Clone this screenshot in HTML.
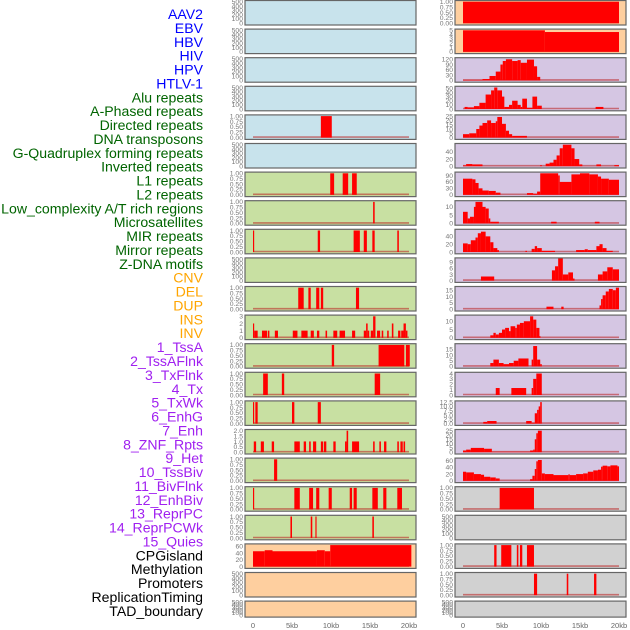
<!DOCTYPE html>
<html><head><meta charset="utf-8"><style>
html,body{margin:0;padding:0;background:#fff;}
svg{display:block;font-family:"Liberation Sans",sans-serif;}
</style></head><body>
<svg id="chart" width="630" height="630" viewBox="0 0 630 630" xmlns="http://www.w3.org/2000/svg"></svg>
<script>
const rowLabels = ["AAV2","EBV","HBV","HIV","HPV","HTLV-1","Alu repeats","A-Phased repeats","Directed repeats","DNA transposons","G-Quadruplex forming repeats","Inverted repeats","L1 repeats","L2 repeats","Low_complexity A/T rich regions","Microsatellites","MIR repeats","Mirror repeats","Z-DNA motifs","CNV","DEL","DUP","INS","INV","1_TssA","2_TssAFlnk","3_TxFlnk","4_Tx","5_TxWk","6_EnhG","7_Enh","8_ZNF_Rpts","9_Het","10_TssBiv","11_BivFlnk","12_EnhBiv","13_ReprPC","14_ReprPCWk","15_Quies","CPGisland","Methylation","Promoters","ReplicationTiming","TAD_boundary"];
const labelGroupSizes = [6,13,5,15,5];
const labelColors = ["#0000ff","#006400","#ffa500","#a020f0","#000000"];
const xTickValues = [0,5,10,15,20];
const xTickLabels = ["0","5kb","10kb","15kb","20kb"];
const T500 = ["0","100","200","300","400","500"];
const T1 = ["0.00","0.25","0.50","0.75","1.00"];
const leftBg = ["#c8e3ec","#c8e3ec","#c8e3ec","#c8e3ec","#c8e3ec","#c8e3ec","#c8e0a2","#c8e0a2","#c8e0a2","#c8e0a2","#c8e0a2","#c8e0a2","#c8e0a2","#c8e0a2","#c8e0a2","#c8e0a2","#c8e0a2","#c8e0a2","#c8e0a2","#fecf9f","#fecf9f","#fecf9f"];
const rightBg = ["#fecf9f","#fecf9f","#d5c6e3","#d5c6e3","#d5c6e3","#d5c6e3","#d5c6e3","#d5c6e3","#d5c6e3","#d5c6e3","#d5c6e3","#d5c6e3","#d5c6e3","#d5c6e3","#d5c6e3","#d5c6e3","#d5c6e3","#d1d1d1","#d1d1d1","#d1d1d1","#d1d1d1","#d1d1d1"];
const leftTicks = [T500,T500,T500,T500,T1,T500,T1,T1,T1,T500,T1,["0","1","2","3"],T1,T1,T1,["0.0","0.5","1.0","1.5","2.0"],T1,T1,T1,["0","20","40","60"],T500,T500];
const rightTicks = [T1,["0","1","2","3","4","5"],["0","30","60","90","120"],["0","10","20","30","40","50"],["0","5","10","15","20","25"],["0","20","40"],["0","30","60","90"],["0","5","10"],["0","20","40"],["0","3","6","9"],["0","5","10","15"],["0","5","10"],["0","5","10","15"],["0","1","2","3","4"],["0.0","2.5","5.0","7.5","10.0","12.5"],["0","5","10","15","20","25"],["0","20","40","60"],T1,T500,T1,T1,T500];
const leftMax = [500,500,500,500,1,500,1,1,1,500,1,3,1,1,1,2,1,1,1,63,500,500];
const rightMax = [1,5,122,52,25,60,100,13,55,10.5,17,13,19,4,12.5,25,64,1,500,1,1,500];
// segments: [startKb, endKb, value]
const leftData = [
 [],[],[],[],
 [[8.7,10.1,1]],
 [],
 [[9.9,10.4,1],[11.5,12.2,1],[12.7,13.3,1]],
 [[15.4,15.6,1]],
 [[0,0.15,1],[8.3,8.6,1],[12.9,13.7,1],[14.2,14.6,1],[15.3,15.6,1],[18.5,18.7,1]],
 [],
 [[5.8,6.5,1],[7.1,7.4,1],[8.1,8.5,1],[8.7,9.0,1],[13.2,13.6,1]],
 [[0,0.15,2],[0.15,0.6,1],[1.15,1.8,1],[1.9,2.1,1],[2.8,3.2,1],[5.1,5.7,1],[6.2,7.0,1],[7.4,7.8,1],[8.2,8.5,1],[9.3,9.5,1],[10.3,10.8,1],[11.1,11.8,1],[12.7,13.1,1],[14.2,14.5,1],[14.5,14.7,2],[14.7,14.9,1],[15.1,15.4,1],[15.4,15.7,3],[15.9,16.3,1],[16.5,16.7,1],[17.2,17.4,1],[17.8,18.0,2],[18.6,18.9,1],[19.0,19.3,1],[19.3,19.6,2],[19.6,19.8,1]],
 [[10.1,10.4,1],[16.1,19.4,1],[19.6,20.1,1]],
 [[1.3,1.9,1],[3.7,4.0,1],[15.6,16.3,1]],
 [[0,0.15,1],[0.3,0.6,1],[5.0,5.3,1],[8.3,8.7,1]],
 [[0.1,0.4,1],[1.0,1.4,1],[2.4,2.7,1],[5.3,6.0,1],[6.5,6.8,1],[7.2,7.4,1],[7.7,8.1,1],[8.7,9.0,1],[9.1,9.4,1],[10.3,10.6,1],[11.8,12.0,1],[12.0,12.2,2],[12.7,13.6,1],[15.4,15.6,1],[16.2,16.4,1],[16.8,17.1,1],[18.5,18.7,1],[18.9,19.2,1],[19.3,19.5,1]],
 [[2.7,3.1,1]],
 [[0,0.15,1],[5.3,6.0,1],[7.2,7.7,1],[8.1,8.5,1],[9.7,10.1,1],[12.4,12.7,1],[12.9,13.3,1],[15.3,16.0,1],[16.7,17.1,1],[18.5,19.1,1]],
 [[4.8,5.0,1],[7.4,7.6,1],[8.0,8.15,1],[15.3,15.5,1]],
 [[0,1.5,45],[1.5,2.5,48],[2.5,8.2,45],[8.2,9.2,48],[9.2,9.9,45],[9.9,20.3,63]],
 [],[]
];
const rightData = [
 [[0,20,1]],
 [[0,10.5,5],[10.5,20,4.6]],
 [[0,2.5,3],[2.5,3.4,8],[3.4,4.2,25],[4.2,4.8,50],[4.8,5.1,90],[5.1,5.5,110],[5.5,6.3,120],[6.3,7,110],[7,7.4,115],[7.4,8.2,100],[8.2,9.1,118],[9.1,9.5,80],[9.5,9.9,20]],
 [[0.2,0.6,5],[0.6,1.4,4],[1.4,2.1,7],[2.1,2.9,15],[2.9,3.6,35],[3.6,4,45],[4,4.4,52],[4.4,5,45],[5,5.3,30],[5.3,5.9,5],[5.9,6.3,10],[6.3,7,20],[7,7.4,10],[7.4,7.6,5],[7.6,8.2,25],[8.2,8.9,3],[8.9,9.5,30],[9.5,10.1,8],[17,18,5]],
 [[0,0.8,4],[0.8,1.7,5],[1.7,2.1,10],[2.1,2.5,14],[2.5,3.1,17],[3.1,3.6,20],[3.6,4.2,17],[4.2,4.4,19],[4.4,5,24],[5,5.5,16],[5.5,5.9,8],[5.9,6.3,4],[6.3,8.2,2]],
 [[0,0.4,2],[0.4,1.2,6],[1.2,2.5,5],[9.9,10.1,3],[10.6,11.1,7],[11.1,11.6,10],[11.6,12,18],[12,12.4,30],[12.4,12.8,50],[12.8,13.9,60],[13.9,14.3,50],[14.3,14.9,20],[14.9,15.3,5],[17.1,17.7,5],[19.4,20,3]],
 [[0,1.2,75],[1.2,1.6,72],[1.6,2,55],[2,2.5,30],[2.5,3.3,20],[3.3,4.2,18],[4.2,4.8,10],[8.2,9,8],[9,9.5,5],[9.5,9.9,15],[9.9,12.2,100],[12.2,12.4,90],[12.4,13.9,60],[13.9,15,95],[15,16.2,100],[16.2,17.3,95],[17.3,17.7,85],[17.7,18.7,75],[18.7,20,70]],
 [[0,0.6,7],[0.6,0.9,3],[0.9,1.4,4],[1.4,1.6,10],[1.6,2.5,13],[2.5,2.9,10],[2.9,3.3,9],[3.3,3.5,3],[3.5,4.6,1],[11.3,12,1],[16.9,17.5,1]],
 [[0,0.6,22],[0.6,1,20],[1,1.6,30],[1.6,1.9,37],[1.9,2.3,48],[2.3,2.9,52],[2.9,3.5,40],[3.5,3.9,25],[3.9,4.4,10],[4.4,4.6,5],[8,8.2,3],[8.8,9.2,8],[9.2,9.5,15],[9.5,10.1,10],[10.1,11.8,3],[14.5,15.6,5],[15.6,16,7],[16,17.1,5],[17.1,17.5,15],[17.5,17.9,20],[17.9,18.4,10],[18.4,19.2,3]],
 [[2.3,4,2],[11.4,11.8,5],[11.8,12.2,7],[12.2,12.8,11],[12.8,13.5,3],[13.5,14.1,4],[14.1,14.3,1],[17.3,17.9,3],[17.9,18.5,4.5],[18.5,19.2,6.5],[19.2,20,5.5]],
 [[10.7,11.6,2],[12.6,12.9,2],[17.5,17.7,3],[17.7,17.9,8],[17.9,18.3,11],[18.3,18.7,14],[18.7,19.2,16],[19.2,19.6,15],[19.6,20,17]],
 [[3.5,3.9,1.5],[3.9,4.2,3],[4.2,4.6,2],[4.6,5,3],[5,5.4,5],[5.4,5.9,6],[5.9,6.1,4],[6.1,6.7,7],[6.7,6.9,6],[6.9,7.3,8],[7.3,7.8,9],[7.8,8.6,10],[8.6,9,13],[9,9.4,11],[9.4,9.8,6],[9.8,9.9,1]],
 [[3.5,3.9,3],[3.9,4.6,6],[4.6,5.2,3],[5.2,5.9,2],[5.9,6.5,3],[6.5,7.1,5],[7.1,8.4,7],[8.8,9,6],[9,9.5,18],[9.5,9.9,6],[9.9,10.1,2]],
 [[4.2,4.7,1.3],[6.2,8.1,1.3],[8.8,9.0,1.3],[9.0,9.4,3],[9.4,10.1,4]],
 [[2.6,3.1,1],[3.1,4.3,1.5],[8.1,8.8,1.5],[8.8,9.2,0.5],[9.2,9.5,6],[9.5,9.7,8],[9.7,9.9,10],[9.9,10.1,12.5]],
 [[0,0.4,2],[0.4,1,3],[1,2.7,5],[2.7,3.7,4],[3.7,8.6,0.5],[8.6,9,2],[9,9.2,3],[9.2,9.4,15],[9.4,9.6,22],[9.6,10.1,25]],
 [[0,0.4,27],[0.4,1.4,25],[1.4,2.3,20],[2.3,2.7,18],[2.7,3.5,12],[3.5,4.2,10],[4.2,4.7,7],[8.6,8.9,5],[8.9,9.2,15],[9.2,9.4,35],[9.4,9.6,58],[9.6,10.1,62],[10.1,10.5,22],[10.5,11.6,20],[11.6,13.5,17],[13.5,13.7,19],[13.7,14.5,17],[14.5,15.4,20],[15.4,16,22],[16,16.7,27],[16.7,17.3,31],[17.3,17.7,33],[17.7,17.9,42],[17.9,18.5,45],[18.5,18.9,43],[18.9,19.8,46],[19.8,20,43]],
 [[4.7,9.1,1]],
 [],
 [[4.0,4.3,1],[4.9,6.2,1],[6.9,7.1,1],[7.3,7.6,1],[8.2,9.1,1]],
 [[9.1,9.5,1],[13.3,13.5,1],[16.8,17.1,1]],
 []
];

const svg = document.getElementById('chart');
const NS = 'http://www.w3.org/2000/svg';
function mk(tag, attrs, parent){ const e=document.createElementNS(NS,tag); for(const k in attrs) e.setAttribute(k,attrs[k]); (parent||svg).appendChild(e); return e; }

let li = 0;
labelGroupSizes.forEach((n,g)=>{ for(let j=0;j<n;j++){ const t=mk('text',{x:203,y:(19+li*13.88).toFixed(1),'text-anchor':'end','font-size':'14.1',fill:labelColors[g]}); t.textContent=rowLabels[li];
 
 
 li++; } });

const ROWS = 22, PITCH = 28.6;
const cols = [{fx:245, x0:253, bg:leftBg, ticks:leftTicks, max:leftMax, data:leftData, side:'left'},
              {fx:455, x0:463, bg:rightBg, ticks:rightTicks, max:rightMax, data:rightData, side:'right'}];
const KB = 7.8;
cols.forEach(c=>{
  const xs = kb => c.x0 + kb*KB;
  for(let i=0;i<ROWS;i++){
    const top = 0.5 + i*PITCH;
    const h = i===ROWS-1 ? 16 : 24.5;
    const g = mk('g',{});
    
    
    const r = mk('rect',{x:c.fx,y:top,width:171,height:h,fill:c.bg[i]},g);
    
    
    const base = top + h - 1.8, span = h - 3;
    const ys = v => base - v / c.max[i] * span;
    c.ticks[i].forEach(lab=>{
      const t = mk('text',{x:c.fx-2,y:(ys(parseFloat(lab))+2.3).toFixed(2),'text-anchor':'end','font-size':'6.8',fill:'#777'},g);
      t.textContent = lab;
      
      
    });
    const segs = c.data[i];
    if(segs.length){
      const bl = mk('line',{x1:xs(0),x2:xs(20),y1:base-0.5,y2:base-0.5,stroke:'rgba(185,30,30,0.55)','stroke-width':1.6},g);
      
      
    }
    segs.forEach(s=>{
      const y = ys(s[2]);
      const b = mk('rect',{x:xs(s[0]).toFixed(2),y:y.toFixed(2),width:Math.max(1,(s[1]-s[0])*KB).toFixed(2),height:(base-y).toFixed(2),fill:'#ff0000'},g);
      
      
    });
    const f = mk('rect',{x:c.fx,y:top,width:171,height:h,fill:'none',stroke:'#666','stroke-width':1.2},g);
    
    
  }
  xTickValues.forEach((v,k)=>{
    const t = mk('text',{x:xs(v),y:628,'text-anchor':'middle','font-size':'7.5',fill:'#666'});
    t.textContent = xTickLabels[k];
    
    
  });
});
</script>
</body></html>
